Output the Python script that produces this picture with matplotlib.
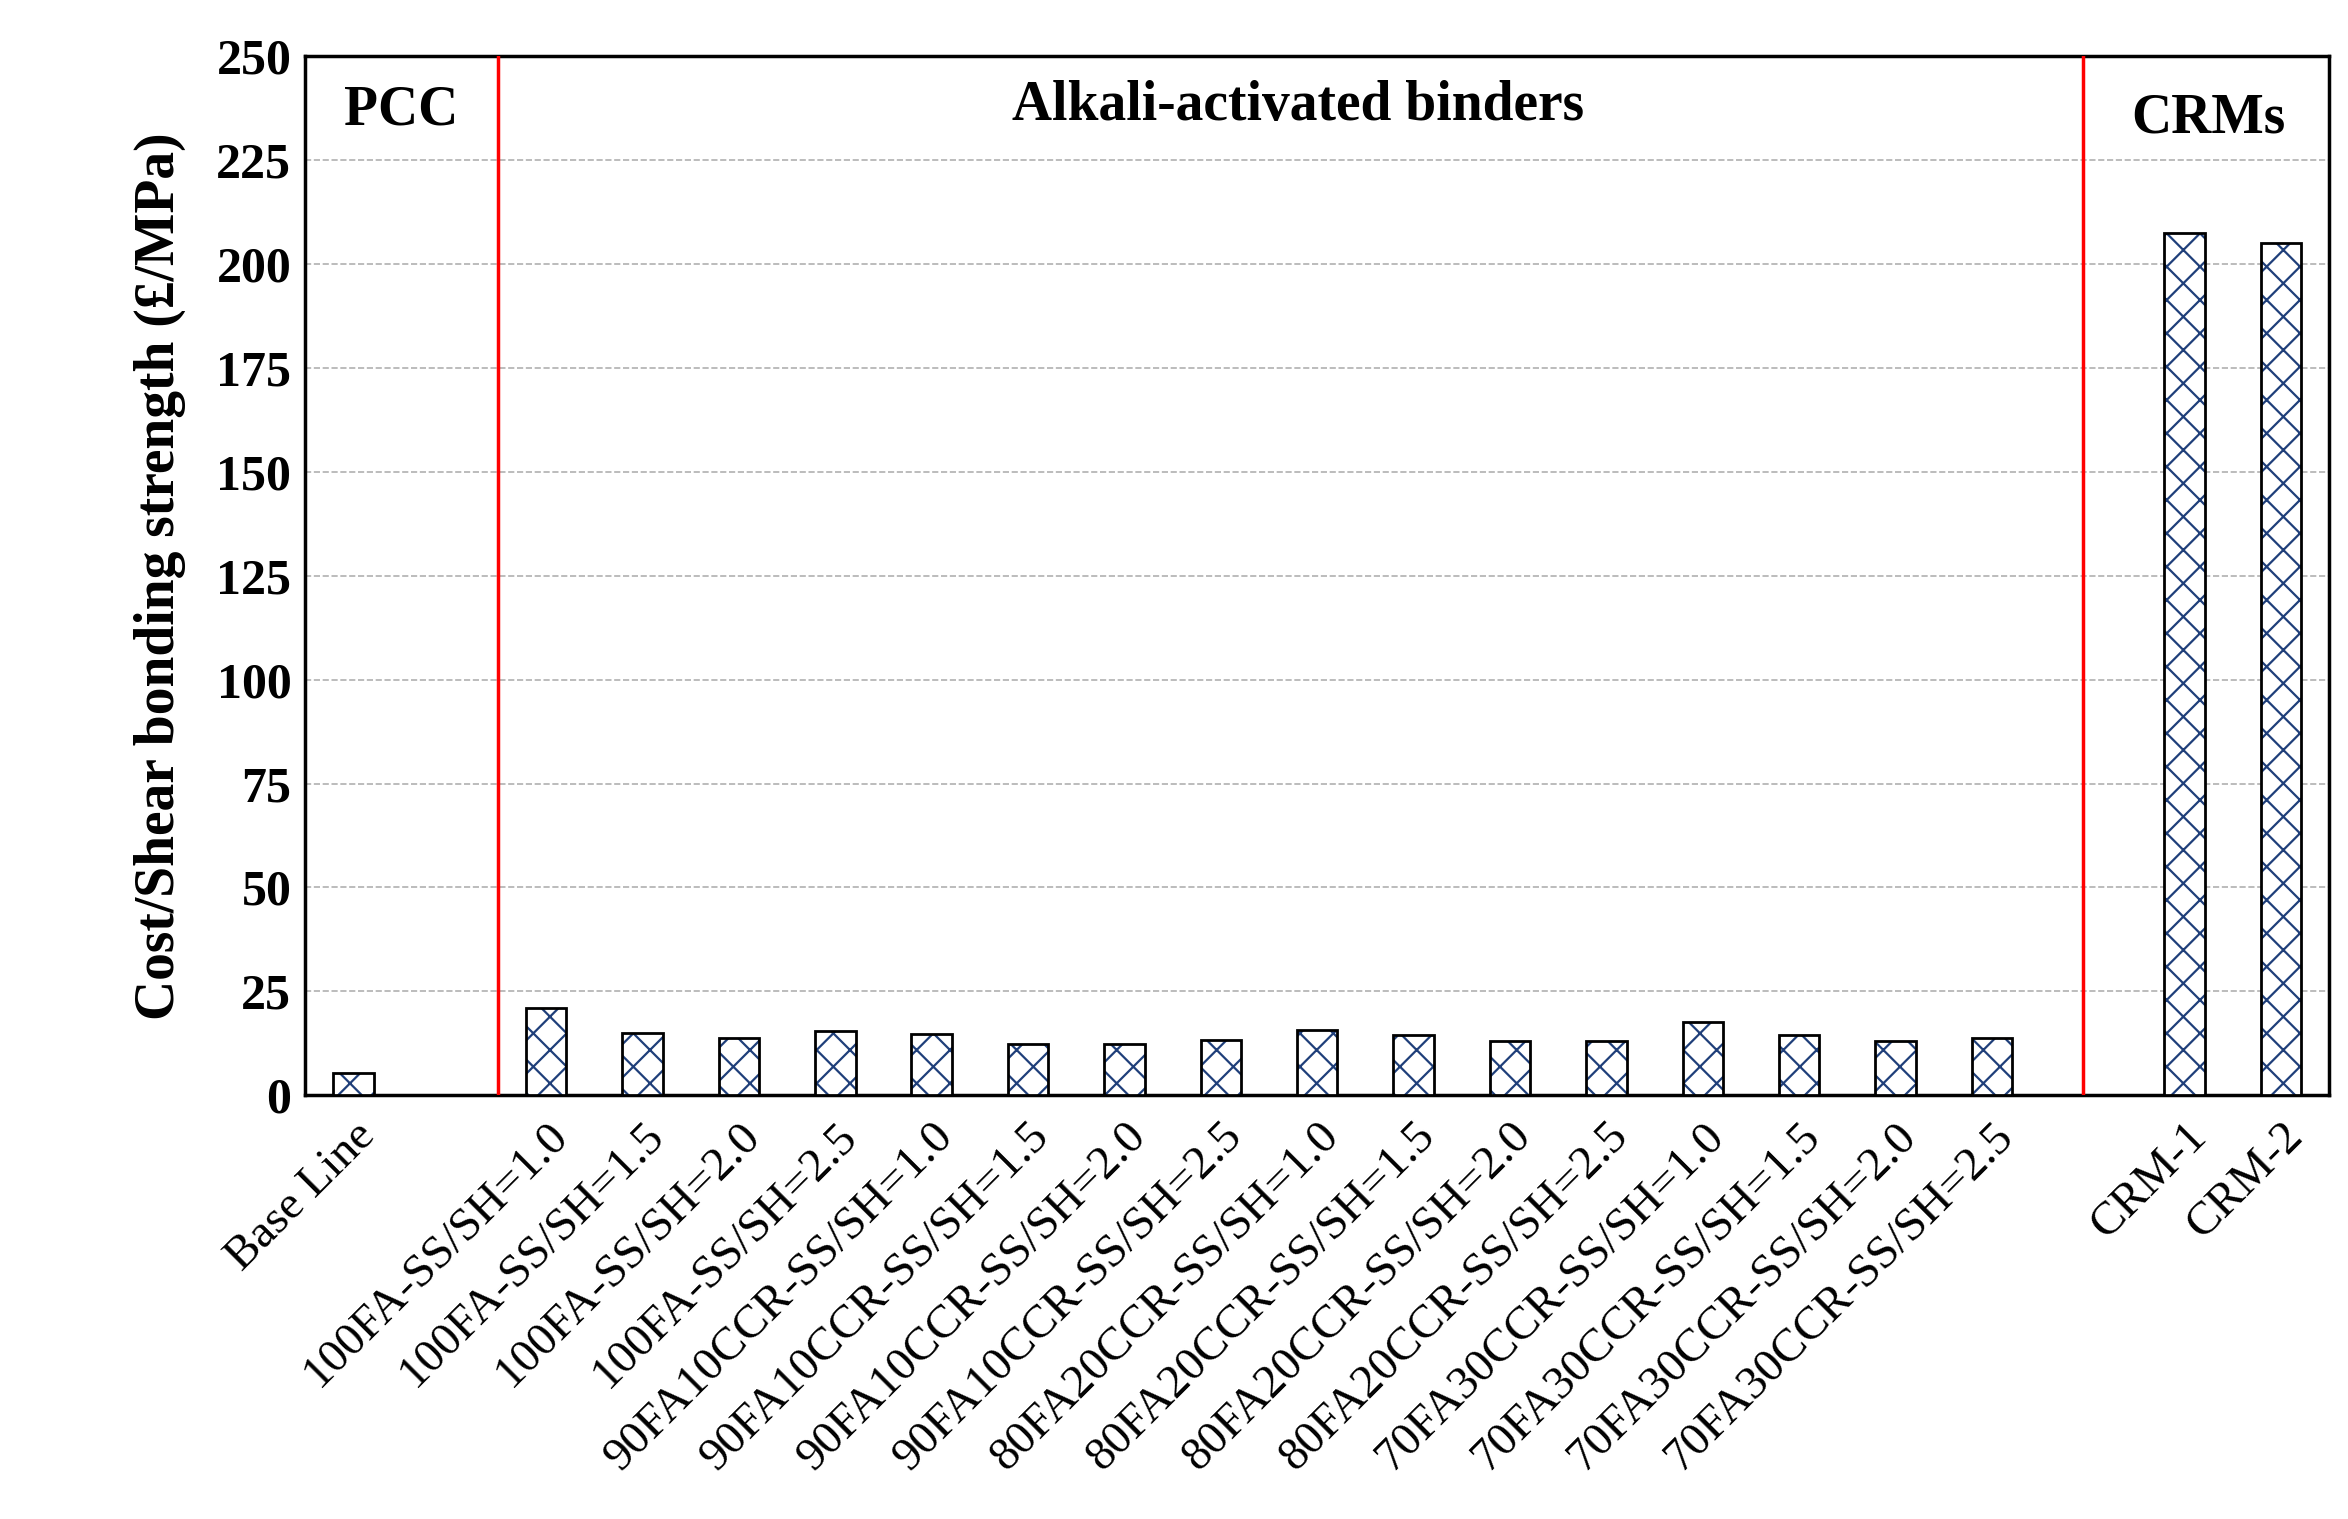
import matplotlib
matplotlib.use("Agg")
import matplotlib.pyplot as plt

plt.rcParams['font.family'] = ['Liberation Serif', 'DejaVu Serif']
plt.rcParams['hatch.linewidth'] = 1.6

categories = ["Base Line",
              "100FA-SS/SH=1.0", "100FA-SS/SH=1.5", "100FA-SS/SH=2.0", "100FA-SS/SH=2.5",
              "90FA10CCR-SS/SH=1.0", "90FA10CCR-SS/SH=1.5", "90FA10CCR-SS/SH=2.0", "90FA10CCR-SS/SH=2.5",
              "80FA20CCR-SS/SH=1.0", "80FA20CCR-SS/SH=1.5", "80FA20CCR-SS/SH=2.0", "80FA20CCR-SS/SH=2.5",
              "70FA30CCR-SS/SH=1.0", "70FA30CCR-SS/SH=1.5", "70FA30CCR-SS/SH=2.0", "70FA30CCR-SS/SH=2.5",
              "CRM-1", "CRM-2"]
values = [5.4, 21.0, 15.0, 13.7, 15.5, 14.8, 12.2, 12.2, 13.3,
          15.8, 14.4, 13.0, 13.0, 17.6, 14.4, 13.0, 13.7, 207.5, 205.0]
positions = [0] + list(range(2, 18)) + [19, 20]
yticks = [0, 25, 50, 75, 100, 125, 150, 175, 200, 225, 250]

fig = plt.figure(figsize=(23.48, 15.19), dpi=100)
ax = fig.add_axes([0.130, 0.279, 0.862, 0.684])
ax.bar(positions, values, width=0.42, color='white', edgecolor='#1f3f7a',
       linewidth=0, hatch='x', zorder=3)
ax.bar(positions, values, width=0.42, fill=False, edgecolor='black',
       linewidth=2, zorder=4)
ax.set_xlim(-0.5, 20.5)
ax.set_ylim(0, 250)
ax.set_yticks(yticks)
ax.yaxis.grid(True, linestyle='--', color='#b0b0b0', linewidth=1.2, zorder=0)
ax.set_xticks(positions)
ax.set_xticklabels(categories, rotation=45, ha='right', rotation_mode='anchor', fontsize=34)
ax.tick_params(axis='y', labelsize=36, length=0, pad=10)
ax.tick_params(axis='x', length=0, pad=14)
for lbl in ax.get_yticklabels():
    lbl.set_fontweight('bold')
for s in ax.spines.values():
    s.set_linewidth(2.5)
ax.axvline(1.5, color='red', linewidth=2.5, zorder=5)
ax.axvline(17.95, color='red', linewidth=2.5, zorder=5)
ax.text(0.5, 237, 'PCC', ha='center', va='center', fontsize=40, fontweight='bold')
ax.text(9.8, 238, 'Alkali-activated binders', ha='center', va='center', fontsize=40, fontweight='bold')
ax.text(19.25, 235, 'CRMs', ha='center', va='center', fontsize=40, fontweight='bold')
ax.set_ylabel('Cost/Shear bonding strength (£/MPa)', fontsize=40, fontweight='bold', labelpad=22)
fig.savefig('out.png', dpi=100)
